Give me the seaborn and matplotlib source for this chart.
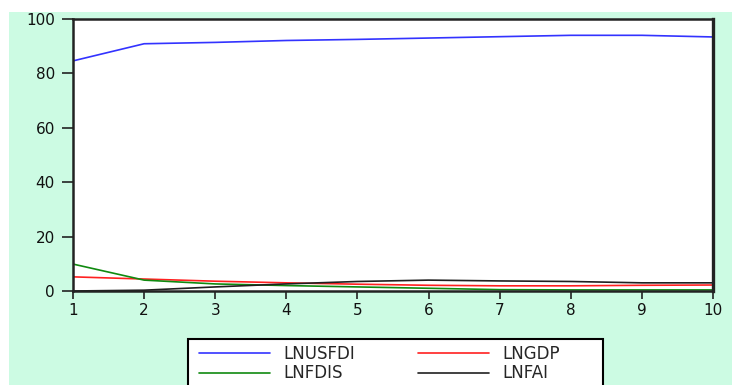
import matplotlib
matplotlib.use("Agg")
import matplotlib.pyplot as plt
from matplotlib.patches import Rectangle
import seaborn as sns
import pandas as pd

periods = [1, 2, 3, 4, 5, 6, 7, 8, 9, 10]
lnusfdi = [84.6, 90.9, 91.4, 92.1, 92.5, 93.0, 93.5, 94.0, 94.0, 93.4]
lngdp = [5.2, 4.4, 3.6, 3.0, 2.5, 2.1, 1.9, 1.9, 2.1, 2.2]
lnfdis = [9.9, 4.0, 2.6, 2.0, 1.5, 1.0, 0.5, 0.4, 0.4, 0.4]
lnfai = [0.0, 0.3, 1.5, 2.6, 3.5, 4.0, 3.7, 3.5, 3.0, 3.0]
series_names = ["LNUSFDI", "LNGDP", "LNFDIS", "LNFAI"]
colors = ["#3333ff", "#ff2020", "#108a10", "#202020"]
yticks = [0, 20, 40, 60, 80, 100]

df = pd.DataFrame({
    "period": periods * 4,
    "value": lnusfdi + lngdp + lnfdis + lnfai,
    "series": sum([[n] * len(periods) for n in series_names], []),
})

sns.set_style("white")
plt.rcParams["font.family"] = ["DejaVu Sans"]

W, H = 732, 385
fig = plt.figure(figsize=(W / 100, H / 100), dpi=100, facecolor="white")
fig.patches.append(Rectangle((9 / W, 0), 1 - 9 / W, 1 - 12 / H,
                             transform=fig.transFigure, facecolor="#ccfbe3",
                             edgecolor="none", zorder=-10))
ax = fig.add_axes([73 / W, 1 - 291 / H, (713 - 73) / W, (291 - 19) / H])
ax.set_facecolor("white")

sns.lineplot(data=df, x="period", y="value", hue="series",
             palette=dict(zip(series_names, colors)), ax=ax, linewidth=1.2,
             legend=False)

ax.set_xlim(1, 10)
ax.set_ylim(0, 100)
ax.set_xticks(periods)
ax.set_yticks(yticks)
ax.set_xlabel("")
ax.set_ylabel("")
ax.tick_params(axis="both", direction="out", width=1.2, color="#222222",
               labelsize=11, labelcolor="#111111")
ax.tick_params(axis="y", length=8, pad=5)
ax.tick_params(axis="x", length=5.5, pad=3)
ax.tick_params(left=True, bottom=True)
for side in ["left", "bottom", "top", "right"]:
    ax.spines[side].set_visible(True)
    ax.spines[side].set_color("#222222")
    ax.spines[side].set_linewidth(1.8)
ax.spines["right"].set_linewidth(2.4)

# legend box (extends below the figure edge as in the reference)
fig.patches.append(Rectangle((188 / W, -10 / H), 415 / W, (385 + 10 - 339) / H,
                             transform=fig.transFigure, facecolor="white",
                             edgecolor="black", linewidth=1.5, zorder=1))

col_x = [199, 418]
for c, idx in enumerate([[0, 2], [1, 3]]):
    handles = [plt.Line2D([0], [0], color=colors[i], lw=1.2) for i in idx]
    labels = [series_names[i] for i in idx]
    fig.legend(handles, labels, ncol=1, loc="upper left",
               bbox_to_anchor=(col_x[c] / W, 1 - 345 / H), frameon=False,
               fontsize=12, handlelength=4.25, handletextpad=0.8,
               borderpad=0, borderaxespad=0, labelspacing=0.08)

fig.savefig("out.png", dpi=100, facecolor=fig.get_facecolor())
